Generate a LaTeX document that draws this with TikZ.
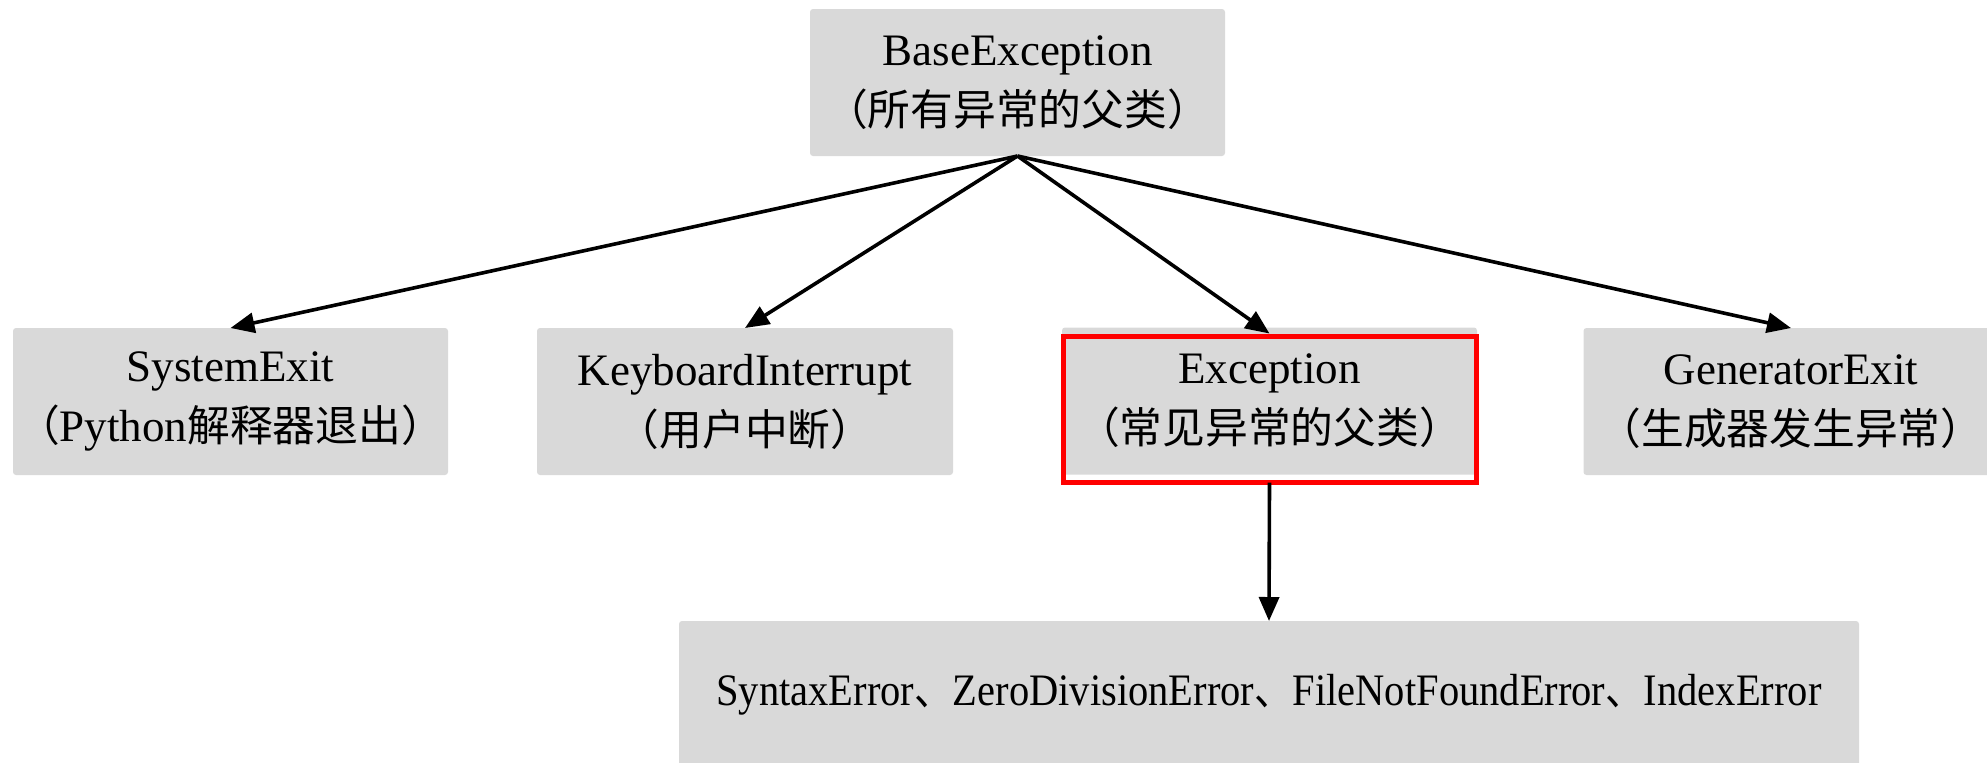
\documentclass[tikz,border=0pt]{standalone}
\usepackage{fontspec}
\usepackage{graphicx}
\setmainfont{Liberation Serif}
\newfontfamily\cjk[Scale=0.95]{Noto Sans CJK SC}
\usetikzlibrary{arrows.meta,positioning}
\colorlet{boxgray}{black!15}
\colorlet{hilite}{red}
\newcommand{\zh}[1]{{\cjk #1}}

\begin{document}
\begin{tikzpicture}[x=0.5pt,y=-0.5pt,
    any/.style={minimum width=207.5pt,minimum height=73.5pt,%
                inner sep=0pt,outer sep=0pt,align=center,%
                fill=boxgray,rounded corners=1.5pt,%
                font=\fontsize{22.5}{30}\selectfont},
    link/.style={-{Triangle[length=12pt,width=10pt]},line width=1.8pt},
    redframe/.style={draw=hilite,line width=2.5pt}
]
\useasboundingbox (0,0) rectangle (1987,762);

\node[any] (base) at (1017.5,82.5) {BaseException\\ \zh{（所有异常的父类）}};

\node[any,minimum width=217.5pt] (sysexit) at (230.5,401.5)
    {SystemExit\\ \zh{（}Python\zh{解释器退出）}};
\node[any,minimum width=208pt] (kbint) at (745,401.5)
    {KeyboardInterrupt\\ \zh{（用户中断）}};
\node[any] (exc) at (1269.5,401) {Exception\\ \zh{（常见异常的父类）}};
\node[any] (genexit) at (1791,401.5) {GeneratorExit\\ \zh{（生成器发生异常）}};

\node[any,minimum width=590pt] (errors) at (1269,694.5)
    {\scalebox{0.9}[1]{SyntaxError\zh{、}ZeroDivisionError\zh{、}FileNotFoundError\zh{、}IndexError}};

% highlight
\draw[redframe] ([xshift=0.75pt,yshift=-4.25pt]exc.north west)
    rectangle ([xshift=-0.25pt,yshift=-3.75pt]exc.south east);

\draw[link] (base.south) -- (sysexit.north);
\draw[link] (base.south) -- (kbint.north);
\draw[link] (base.south) -- ([yshift=-3pt]exc.north);
\draw[link] (base.south) -- (genexit.north);
\draw[link] ([yshift=-4pt]exc.south) -- (errors.north);

\end{tikzpicture}
\end{document}
